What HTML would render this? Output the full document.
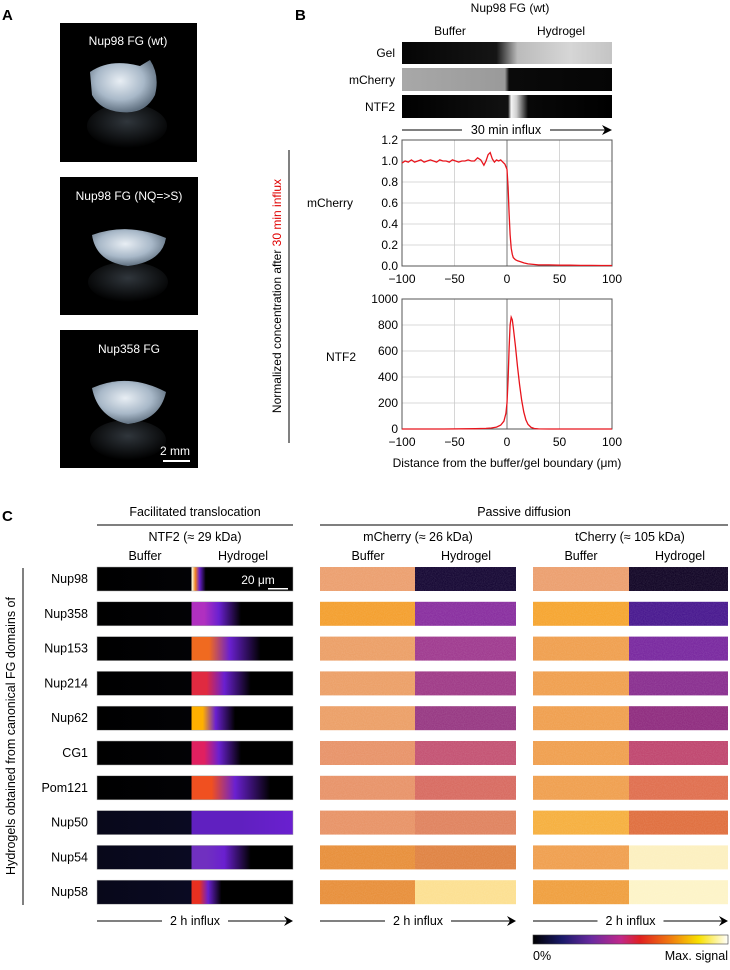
<!DOCTYPE html>
<html><head><meta charset="utf-8"><style>
html,body{margin:0;padding:0;background:#fff;}
svg text{font-family:"Liberation Sans",sans-serif;}
</style></head><body>
<svg id="fig" width="730" height="965" viewBox="0 0 730 965" xmlns="http://www.w3.org/2000/svg">
<defs>
<filter id="noise" x="0" y="0" width="100%" height="100%"><feTurbulence type="fractalNoise" baseFrequency="0.9" numOctaves="2" seed="3"/><feColorMatrix values="0 0 0 0 1  0 0 0 0 1  0 0 0 0 1  0 0 0 0.35 -0.1"/><feComposite in2="SourceGraphic" operator="in"/></filter>
<linearGradient id="gelG" x1="0" x2="1"><stop offset="0" stop-color="#050505"/><stop offset="0.45" stop-color="#151515"/><stop offset="0.55" stop-color="#bbb"/><stop offset="0.8" stop-color="#d6d6d6"/><stop offset="1" stop-color="#c4c4c4"/></linearGradient>
<linearGradient id="mchG" x1="0" x2="1"><stop offset="0" stop-color="#a8a8a8"/><stop offset="0.49" stop-color="#9a9a9a"/><stop offset="0.51" stop-color="#0a0a0a"/><stop offset="1" stop-color="#050505"/></linearGradient>
<linearGradient id="ntfG" x1="0" x2="1"><stop offset="0" stop-color="#000"/><stop offset="0.505" stop-color="#111"/><stop offset="0.52" stop-color="#f4f4f4"/><stop offset="0.545" stop-color="#d0d0d0"/><stop offset="0.6" stop-color="#080808"/><stop offset="1" stop-color="#000"/></linearGradient>
<linearGradient id="cbar" x1="0" x2="1"><stop offset="0" stop-color="#000"/><stop offset="0.15" stop-color="#1a1a6a"/><stop offset="0.3" stop-color="#6a2aa0"/><stop offset="0.45" stop-color="#c0288a"/><stop offset="0.55" stop-color="#e02020"/><stop offset="0.7" stop-color="#f07810"/><stop offset="0.85" stop-color="#f8e000"/><stop offset="1" stop-color="#fff"/></linearGradient>
<radialGradient id="blob" cx="0.45" cy="0.4" r="0.6"><stop offset="0" stop-color="#e8eef4"/><stop offset="0.6" stop-color="#a8b8c8"/><stop offset="1" stop-color="#607080"/></radialGradient>
<radialGradient id="refl" cx="0.5" cy="0.4" r="0.6"><stop offset="0" stop-color="#30363c"/><stop offset="1" stop-color="#000"/></radialGradient>
</defs>

<!-- Panel A -->
<text x="2" y="20" font-size="15" font-weight="bold">A</text>
<g>
<rect x="60" y="23" width="137" height="139" fill="#000"/>
<ellipse cx="127" cy="126" rx="40" ry="22" fill="url(#refl)"/>
<path d="M90 72 Q110 58 140 66 L150 60 Q160 75 155 95 Q145 115 120 112 Q100 110 92 95 Z" fill="url(#blob)"/>
<text x="128" y="45" font-size="12" fill="#fff" text-anchor="middle">Nup98 FG (wt)</text>
</g>
<g>
<rect x="60" y="177" width="138" height="138" fill="#000"/>
<ellipse cx="128" cy="282" rx="40" ry="20" fill="url(#refl)"/>
<path d="M92 235 Q128 222 166 238 Q162 262 128 266 Q96 262 92 235 Z" fill="url(#blob)"/>
<text x="129" y="200" font-size="12" fill="#fff" text-anchor="middle">Nup98 FG (NQ=&gt;S)</text>
</g>
<g>
<rect x="60" y="330" width="138" height="138" fill="#000"/>
<ellipse cx="128" cy="440" rx="38" ry="20" fill="url(#refl)"/>
<path d="M92 388 Q128 372 166 392 Q160 420 128 424 Q98 418 92 388 Z" fill="url(#blob)"/>
<text x="129" y="353" font-size="12" fill="#fff" text-anchor="middle">Nup358 FG</text>
<text x="175" y="455" font-size="12" fill="#fff" text-anchor="middle">2 mm</text>
<rect x="163" y="460" width="27" height="2" fill="#fff"/>
</g>

<!-- Panel B -->
<text x="295" y="20" font-size="15" font-weight="bold">B</text>
<text x="510" y="12" font-size="12" text-anchor="middle">Nup98 FG (wt)</text>
<text x="450" y="35" font-size="12" text-anchor="middle">Buffer</text>
<text x="561" y="35" font-size="12" text-anchor="middle">Hydrogel</text>
<text x="395" y="57" font-size="12" text-anchor="end">Gel</text>
<text x="395" y="84" font-size="12" text-anchor="end">mCherry</text>
<text x="395" y="111" font-size="12" text-anchor="end">NTF2</text>
<rect x="402" y="42" width="210" height="22" fill="url(#gelG)"/>
<rect x="402" y="68" width="210" height="23" fill="url(#mchG)"/>
<rect x="402" y="95" width="210" height="23" fill="url(#ntfG)"/>
<g>
<line x1="402" y1="130" x2="462" y2="130" stroke="#000" stroke-width="1"/>
<line x1="550" y1="130" x2="608" y2="130" stroke="#000" stroke-width="1"/>
<path d="M602 125 L612 130 L602 135 L605 130 Z" fill="#000"/>
<text x="506" y="134" font-size="12.5" text-anchor="middle">30 min influx</text>
</g>
<line x1="289" y1="150" x2="289" y2="443" stroke="#000" stroke-width="1"/>
<text transform="translate(281,296) rotate(-90)" font-size="12" text-anchor="middle">Normalized concentration after <tspan fill="#e00000">30 min influx</tspan></text>
<text x="330" y="207" font-size="12" text-anchor="middle">mCherry</text>
<text x="341" y="361" font-size="12" text-anchor="middle">NTF2</text>
<g id="plot1"></g>
<g id="plot2"></g>
<text x="507" y="467" font-size="12" text-anchor="middle">Distance from the buffer/gel boundary (μm)</text>

<!-- Panel C -->
<text x="2" y="521" font-size="15" font-weight="bold">C</text>
<text x="195" y="516" font-size="12.5" text-anchor="middle">Facilitated translocation</text>
<line x1="97" y1="525" x2="293" y2="525" stroke="#333" stroke-width="1.2"/>
<text x="524" y="516" font-size="12.5" text-anchor="middle">Passive diffusion</text>
<line x1="320" y1="525" x2="728" y2="525" stroke="#333" stroke-width="1.2"/>
<text x="195" y="541" font-size="12.5" text-anchor="middle">NTF2 (≈ 29 kDa)</text>
<text x="418" y="541" font-size="12.5" text-anchor="middle">mCherry (≈ 26 kDa)</text>
<text x="630" y="541" font-size="12.5" text-anchor="middle">tCherry (≈ 105 kDa)</text>
<g font-size="12.5" text-anchor="middle">
<text x="145" y="560">Buffer</text><text x="243" y="560">Hydrogel</text>
<text x="368" y="560">Buffer</text><text x="466" y="560">Hydrogel</text>
<text x="581" y="560">Buffer</text><text x="680" y="560">Hydrogel</text>
</g>
<line x1="23" y1="568" x2="23" y2="905" stroke="#000" stroke-width="1"/>
<text transform="translate(15,736) rotate(-90)" font-size="12.5" text-anchor="middle">Hydrogels obtained from canonical FG domains of</text>
<g id="heat"></g>
<text x="258" y="584" font-size="12" fill="#fff" text-anchor="middle">20 μm</text>
<rect x="268" y="588" width="20" height="1.5" fill="#fff"/>
<g id="arrows"></g>
<rect x="533" y="935" width="195" height="9" fill="url(#cbar)" stroke="#444" stroke-width="0.6"/>
<text x="533" y="960" font-size="12.5">0%</text>
<text x="728" y="960" font-size="12.5" text-anchor="end">Max. signal</text>
</svg>
<script>
const NS="http://www.w3.org/2000/svg";
// mCherry profile data
const mchX=[-100,-97,-94,-91,-88,-85,-82,-79,-76,-73,-70,-67,-64,-61,-58,-55,-52,-49,-46,-43,-40,-37,-34,-31,-28,-25,-22,-20,-18,-16,-14,-12,-10,-8,-6,-4,-2,0,1,2,3,4,5,6,8,10,13,16,20,25,30,40,50,60,70,80,90,100];
const mchY=[0.98,1.0,0.99,1.01,0.99,1.0,1.01,0.99,1.0,1.01,1.0,0.99,1.01,1.0,1.0,0.99,1.01,1.0,0.99,1.0,1.0,1.01,1.0,1.0,1.03,1.01,0.96,1.0,1.06,1.08,1.02,0.99,1.01,1.0,1.01,0.99,0.97,0.92,0.75,0.5,0.3,0.17,0.11,0.08,0.06,0.05,0.04,0.03,0.02,0.015,0.01,0.01,0.008,0.008,0.006,0.006,0.005,0.005];
const mchTicks=[0,0.2,0.4,0.6,0.8,1.0,1.2];
// NTF2 profile data
const ntfX=[-100,-60,-30,-20,-15,-10,-6,-3,-1,0,1,2,3,4,5,6,8,10,12,14,16,18,20,23,26,30,40,60,100];
const ntfY=[0,0,2,5,8,15,30,60,120,200,380,620,800,860,840,780,640,480,340,220,130,70,35,12,4,1,0,0,0];
const ntfTicks=[0,200,400,600,800,1000];
const xTicks=[-100,-50,0,50,100];

function el(tag,attrs,parent){const e=document.createElementNS(NS,tag);for(const k in attrs)e.setAttribute(k,attrs[k]);parent.appendChild(e);return e;}
const x0=402,x1=612;
const xs=v=>x0+(v+100)/200*(x1-x0);
function drawPlot(gid,top,bot,ymax,ticks,xv,yv,fmt,name){
  const g=document.getElementById(gid);
  const ys=v=>bot-(v/ymax)*(bot-top);
  ticks.forEach(t=>{
    const l=el('line',{x1:x0,x2:x1,y1:ys(t),y2:ys(t),stroke:'#ccc','stroke-width':0.8},g);
    
    
    const tx=el('text',{x:398,y:ys(t)+4,'font-size':12,'text-anchor':'end'},g);
    tx.textContent=fmt(t);
    
    
  });
  xTicks.forEach(t=>{
    const l=el('line',{x1:xs(t),x2:xs(t),y1:top,y2:bot,stroke:t===0?'#777':'#ccc','stroke-width':t===0?1:0.8},g);
    
    
    const tx=el('text',{x:xs(t),y:bot+17,'font-size':12,'text-anchor':'middle'},g);
    tx.textContent=t<0?'\u2212'+(-t):String(t);
    
    
  });
  const fr=el('rect',{x:x0,y:top,width:x1-x0,height:bot-top,fill:'none',stroke:'#555','stroke-width':1},g);
  
  
  const d=xv.map((v,i)=>(i?'L':'M')+xs(v).toFixed(1)+' '+ys(yv[i]).toFixed(1)).join(' ');
  const p=el('path',{d:d,fill:'none',stroke:'#e8141c','stroke-width':1.3},g);
  
  
}
drawPlot('plot1',140,266,1.2,mchTicks,mchX,mchY,t=>t.toFixed(1),'mcherry-line');
drawPlot('plot2',299,429,1000,ntfTicks,ntfX,ntfY,t=>String(t),'ntf2-line');

// Panel C strips
const rows=['Nup98','Nup358','Nup153','Nup214','Nup62','CG1','Pom121','Nup50','Nup54','Nup58'];
const ntfEdge=['#ffffe0','#b030c0','#f06a20','#e02a40','#ffb000','#e02060','#f05020','#6020c0','#7030c0','#e83020'];
const ntfFade=[0.07,0.25,0.35,0.3,0.22,0.25,0.4,1,0.3,0.15];
const mchBuf=['#eca070','#f4a030','#eca068','#eca068','#eca068','#e8946a','#e8946a','#e89468','#e8903c','#e8903c'];
const mchGel=['#180a36','#8a30a0','#a03c90','#a03c88','#983a84','#c45474','#d86c62','#e08460','#e08444','#fce092'];
const tchBuf=['#eca070','#f6a632','#f0a050','#f0a050','#f0a050','#f0a050','#f0a050','#f6b040','#f0a050','#f0a040'];
const tchGel=['#140828','#4a1a90','#7a2aa0','#8a3090','#902e80','#c04870','#e07050','#e07040','#fcf0c0','#fdf4c8'];
const heat=document.getElementById('heat');
const defs=document.querySelector('defs');
rows.forEach((r,i)=>{
  const y=567+i*34.8,h=24;
  const lab=el('text',{x:88,y:y+16,'font-size':12.5,'text-anchor':'end'},heat);
  lab.textContent=r;
  
  
  const gid='ng'+i;
  const lg=el('linearGradient',{id:gid,x1:0,x2:1},defs);
  const b=(192-97)/196, f=ntfFade[i];
  el('stop',{offset:0,'stop-color':i>=7?'#08081a':'#000'},lg);
  el('stop',{offset:b-0.005,'stop-color':i>=7?'#0a0a22':'#020205'},lg);
  el('stop',{offset:b,'stop-color':ntfEdge[i]},lg);
  el('stop',{offset:b+f*0.25,'stop-color':i===0?'#f08020':ntfEdge[i]},lg);
  el('stop',{offset:b+f*0.55,'stop-color':'#6a20d0'},lg);
  el('stop',{offset:Math.min(1,b+f),'stop-color':i===7?'#2818a0':'#000'},lg);
  el('stop',{offset:1,'stop-color':i===7?'#2818a0':'#000'},lg);
  const s1=el('rect',{x:97,y:y,width:196,height:h,fill:'url(#'+gid+')',stroke:'#aaa','stroke-width':0.5},heat);
  
  
  [[320,415,516,mchBuf,mchGel,'mcherry'],[533,629,728,tchBuf,tchGel,'tcherry']].forEach(c=>{
    const a=el('rect',{x:c[0],y:y,width:c[1]-c[0],height:h,fill:c[3][i]},heat);
    
    
    const bb=el('rect',{x:c[1],y:y,width:c[2]-c[1],height:h,fill:c[4][i]},heat);
    
    
    const n=el('rect',{x:c[0],y:y,width:c[2]-c[0],height:h,fill:'#fff',filter:'url(#noise)',opacity:0.5},heat);
    
    
  });
});
const arr=document.getElementById('arrows');
[[97,293],[320,516],[533,728]].forEach((c,i)=>{
  const g=el('g',{},arr);
  
  
  const m=(c[0]+c[1])/2;
  el('line',{x1:c[0],y1:921,x2:m-33,y2:921,stroke:'#000'},g);
  el('line',{x1:m+33,y1:921,x2:c[1]-2,y2:921,stroke:'#000'},g);
  el('path',{d:`M${c[1]-9} 916 L${c[1]} 921 L${c[1]-9} 926 L${c[1]-6} 921 Z`,fill:'#000'},g);
  const t=el('text',{x:m,y:925,'font-size':12.5,'text-anchor':'middle'},g);
  t.textContent='2 h influx';
});
</script>
</body></html>
